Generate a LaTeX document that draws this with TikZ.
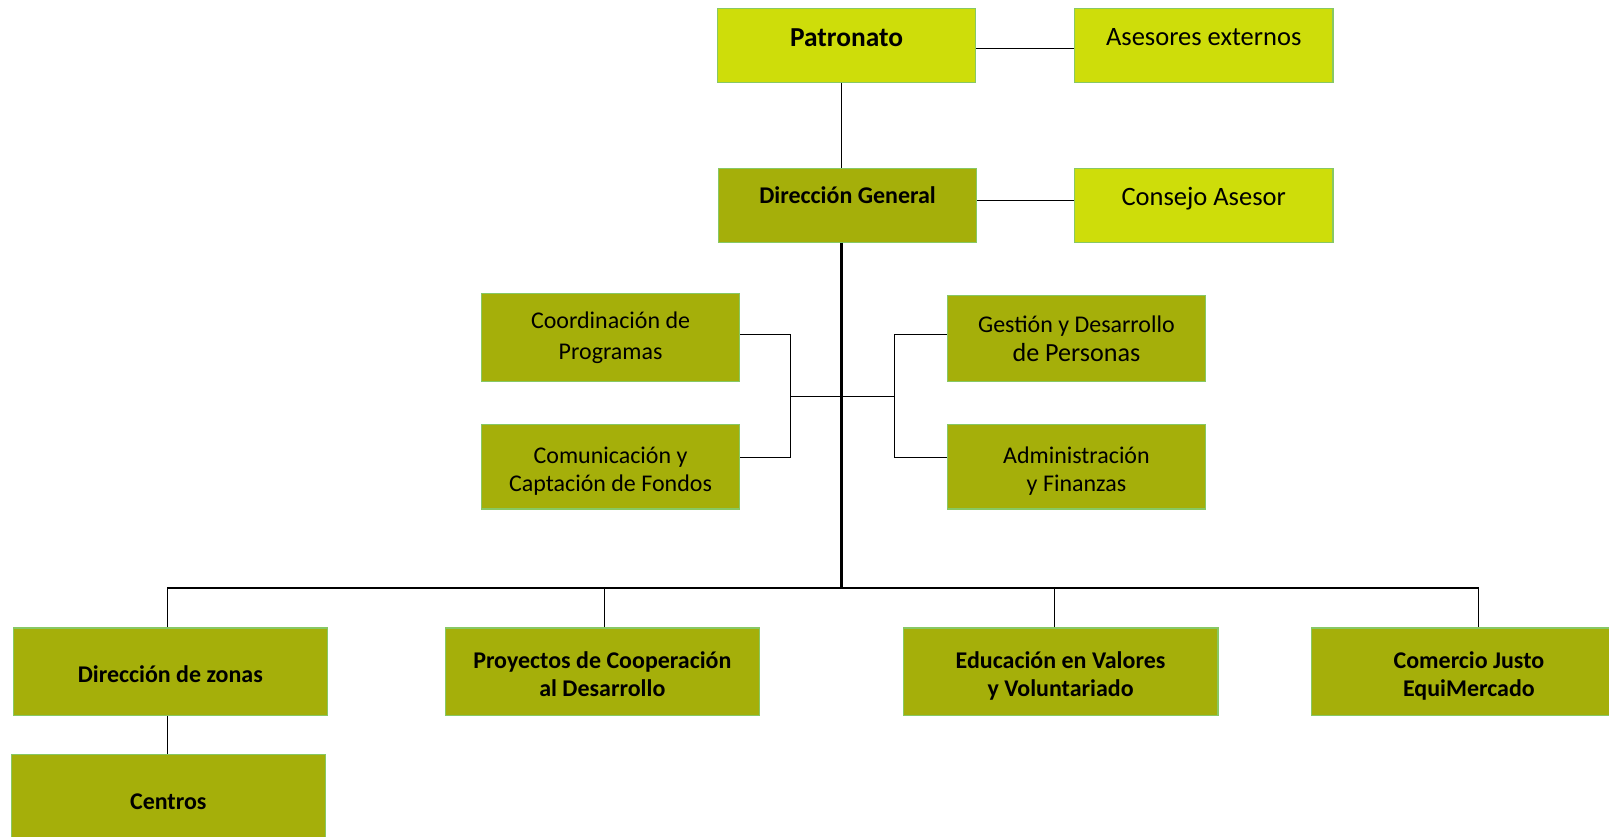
\documentclass[tikz,border=0pt]{standalone}
\usepackage{fontspec}
\setmainfont{Carlito}
\definecolor{limeBox}{RGB}{206,221,10}
\definecolor{oliveBox}{RGB}{165,175,10}
\definecolor{boxEdge}{RGB}{135,200,100}
\begin{document}
\begin{tikzpicture}[x=0.02cm,y=-0.02cm]
	\tikzstyle{box}=[draw=boxEdge,line width=0.6pt,inner sep=0pt,align=center,font=\fontsize{13.3}{16}\selectfont]
	\tikzstyle{topbox}=[box,minimum width=5.04cm,minimum height=1.44cm,text depth=0.38cm]
	\tikzstyle{midbox}=[box,fill=oliveBox,minimum width=5.04cm]
	\tikzstyle{lowbox}=[box,fill=oliveBox,minimum width=6.12cm,minimum height=1.7cm,text height=0.96cm,text depth=0pt,font=\fontsize{13.3}{15.5}\selectfont\bfseries]
	\tikzstyle{link}=[black,line width=0.6pt]
	\tikzstyle{trunk}=[black,line width=1.3pt]
	\useasboundingbox (0,0) rectangle (1568,815);
	\node [topbox,fill=limeBox,font=\fontsize{15.2}{17}\selectfont\bfseries,text depth=0.3cm] (pat) at (825,44) {Patronato};
	\node [topbox,fill=limeBox,font=\fontsize{14.7}{17}\selectfont,text depth=0.3cm] (ase) at (1173,44) {Asesores externos};
	\node [topbox,fill=oliveBox,font=\fontsize{13.3}{16}\selectfont\bfseries] (dg) at (826,200) {Dirección General};
	\node [topbox,fill=limeBox,font=\fontsize{14.7}{17}\selectfont,text depth=0.34cm] (cas) at (1173,200) {Consejo Asesor};
	\node [midbox,minimum height=1.72cm,font=\fontsize{13.3}{17}\selectfont] (cpr) at (595,329) {Coordinación de\\Programas};
	\node [midbox,minimum height=1.64cm,text height=0.96cm,text depth=0pt,font=\fontsize{13.3}{15.5}\selectfont] (com) at (595,455) {Comunicación y\\Captación de Fondos};
	\node [midbox,minimum height=1.68cm] (gdp) at (1049,330) {Gestión y Desarrollo\\{\fontsize{14.5}{16}\selectfont de Personas}};
	\node [midbox,minimum height=1.64cm,text height=0.96cm,text depth=0pt,font=\fontsize{13.3}{15.5}\selectfont] (adm) at (1049,455) {Administración\\y Finanzas};
	\node [lowbox,text height=0.44cm] (zon) at (166,654.5) {Dirección de zonas};
	\node [lowbox,text height=0.44cm] (cen) at (164,777.5) {Centros};
	\node [lowbox] (pro) at (587,654.5) {Proyectos de Cooperación\\al Desarrollo};
	\node [lowbox,minimum width=6.14cm] (edu) at (1033.5,654.5) {Educación en Valores\\y Voluntariado};
	\node [lowbox,minimum width=6.14cm] (cjm) at (1431.5,654.5) {Comercio Justo\\EquiMercado};
	\coordinate (bus) at (820,573);
	\coordinate (lj) at (770,386);
	\coordinate (rj) at (872,386);
	\draw [link] (pat.east |- 0,47) -- (ase.west |- 0,47);
	\draw [link] (dg.east |- 0,195) -- (cas.west |- 0,195);
	\draw [link] (pat.south -| bus) -- (dg.north -| bus);
	\draw [trunk] (dg.south -| bus) -- (bus);
	\draw [link] (cpr.east |- 0,326) -| (lj) |- (com.east |- 0,446);
	\draw [link] (gdp.west |- 0,326) -| (rj) |- (adm.west |- 0,446);
	\draw [link] (lj) -- (rj);
	\draw [link] (zon.north -| 163,0) |- (bus) -| (cjm.north -| 1441,0);
	\draw [link] (pro.north -| 589,0) -- (bus -| 589,0);
	\draw [link] (edu.north -| 1028,0) -- (bus -| 1028,0);
	\draw [link] (zon.south -| 163,0) -- (cen.north -| 163,0);
\end{tikzpicture}
\end{document}
